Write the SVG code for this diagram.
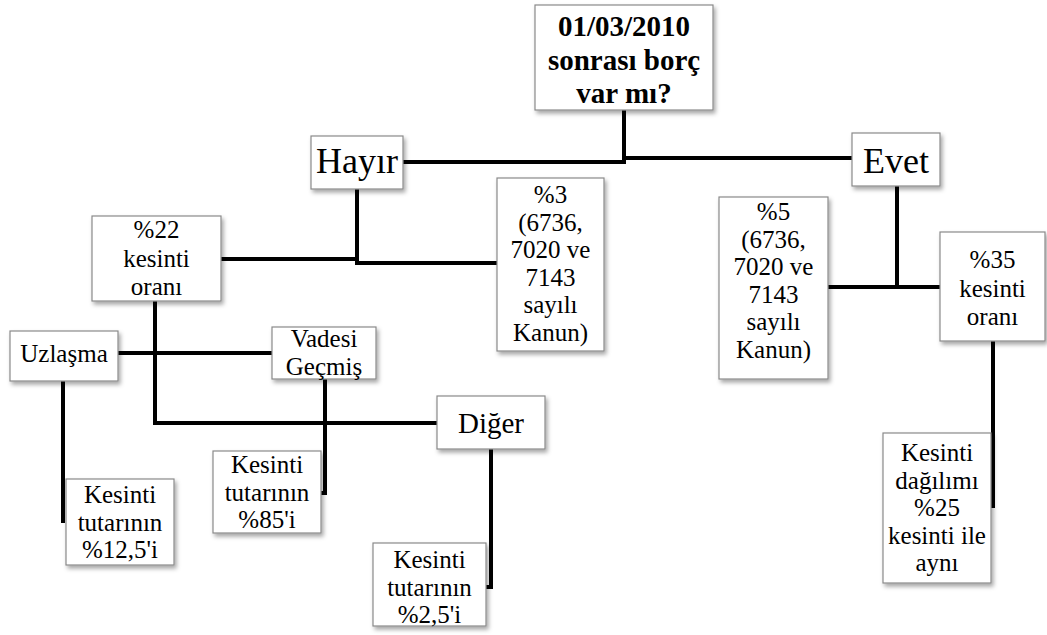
<svg xmlns="http://www.w3.org/2000/svg" width="1047" height="635" viewBox="0 0 1047 635">
<style>
.box{fill:#fff;stroke:#8a8a8a;stroke-width:1.2;filter:url(#sh)}
.t{font-family:"Liberation Serif","Times New Roman",serif;font-size:25px;fill:#000;text-anchor:middle}
.big{font-size:36px}
.mid{font-size:29px}
.b{font-weight:bold;font-size:29px}
.c{fill:none;stroke:#000;stroke-width:4;stroke-linejoin:miter;stroke-linecap:butt}
</style>
<defs>
<filter id="sh" x="-20%" y="-20%" width="140%" height="140%">
<feDropShadow dx="2" dy="3" stdDeviation="2" flood-color="#000" flood-opacity="0.35"/>
</filter>
</defs>
<rect width="1047" height="635" fill="#fff"/>
<g id="connectors">
<path class="c" d="M624,110 V162 H403"/>
<path class="c" d="M624,158 H852"/>
<path class="c" d="M357,189 V263 H497"/>
<path class="c" d="M221,259 H357"/>
<path class="c" d="M897,186 V286"/>
<path class="c" d="M828,287 H940"/>
<path class="c" d="M993,341 V508"/>
<path class="c" d="M155,301 V423 H437"/>
<path class="c" d="M118,353 H272"/>
<path class="c" d="M63,381 V523"/>
<path class="c" d="M325,379 V493 H321"/>
<path class="c" d="M491,449 V587 H486"/>
</g>
<g id="title">
<rect class="box" x="535" y="5" width="178" height="105"/>
<text class="t b" x="624" y="36">01/03/2010</text>
<text class="t b" x="624" y="70">sonrası borç</text>
<text class="t b" x="624" y="103">var mı?</text>
</g>
<g id="hayir">
<rect class="box" x="311" y="136" width="92" height="53"/>
<text class="t big" x="357" y="173">Hayır</text>
</g>
<g id="evet">
<rect class="box" x="852" y="133" width="88" height="53"/>
<text class="t big" x="896" y="173">Evet</text>
</g>
<g id="yuzde3">
<rect class="box" x="497" y="178" width="107" height="173"/>
<text class="t" x="550.5" y="203">%3</text>
<text class="t" x="550.5" y="230.5">(6736,</text>
<text class="t" x="550.5" y="258">7020 ve</text>
<text class="t" x="550.5" y="285.5">7143</text>
<text class="t" x="550.5" y="313">sayılı</text>
<text class="t" x="550.5" y="340.5">Kanun)</text>
</g>
<g id="yuzde5">
<rect class="box" x="719" y="197" width="109" height="182"/>
<text class="t" x="773.5" y="220">%5</text>
<text class="t" x="773.5" y="247.5">(6736,</text>
<text class="t" x="773.5" y="275">7020 ve</text>
<text class="t" x="773.5" y="302.5">7143</text>
<text class="t" x="773.5" y="330">sayılı</text>
<text class="t" x="773.5" y="357.5">Kanun)</text>
</g>
<g id="yuzde22">
<rect class="box" x="92" y="216" width="129" height="85"/>
<text class="t" x="156.5" y="238">%22</text>
<text class="t" x="156.5" y="266.5">kesinti</text>
<text class="t" x="156.5" y="295">oranı</text>
</g>
<g id="yuzde35">
<rect class="box" x="940" y="232" width="105" height="109"/>
<text class="t" x="992.5" y="268">%35</text>
<text class="t" x="992.5" y="296.5">kesinti</text>
<text class="t" x="992.5" y="325">oranı</text>
</g>
<g id="uzlasma">
<rect class="box" x="10" y="331" width="108" height="50"/>
<text class="t" x="64" y="362">Uzlaşma</text>
</g>
<g id="vadesi">
<rect class="box" x="272" y="327" width="104" height="52"/>
<text class="t" x="324" y="347">Vadesi</text>
<text class="t" x="324" y="375">Geçmiş</text>
</g>
<g id="diger">
<rect class="box" x="437" y="396" width="108" height="53"/>
<text class="t mid" x="491" y="433">Diğer</text>
</g>
<g id="kesinti125">
<rect class="box" x="66" y="479" width="108" height="86"/>
<text class="t" x="120" y="503">Kesinti</text>
<text class="t" x="120" y="530.5">tutarının</text>
<text class="t" x="120" y="558">%12,5'i</text>
</g>
<g id="kesinti85">
<rect class="box" x="213" y="451" width="108" height="82"/>
<text class="t" x="267" y="473">Kesinti</text>
<text class="t" x="267" y="500.5">tutarının</text>
<text class="t" x="267" y="528">%85'i</text>
</g>
<g id="kesinti25">
<rect class="box" x="373" y="543" width="113" height="83"/>
<text class="t" x="429.5" y="568">Kesinti</text>
<text class="t" x="429.5" y="595.5">tutarının</text>
<text class="t" x="429.5" y="623">%2,5'i</text>
</g>
<g id="dagilim">
<rect class="box" x="883" y="433" width="108" height="150"/>
<text class="t" x="937" y="461">Kesinti</text>
<text class="t" x="937" y="488.5">dağılımı</text>
<text class="t" x="937" y="516">%25</text>
<text class="t" x="937" y="543.5">kesinti ile</text>
<text class="t" x="937" y="571">aynı</text>
</g>
</svg>
